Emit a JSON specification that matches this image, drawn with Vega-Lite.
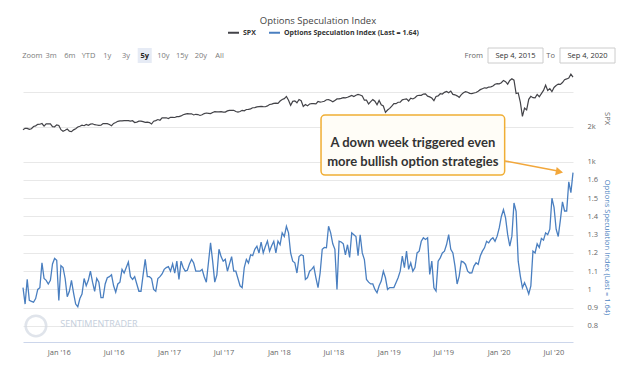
{
  "$schema": "https://vega.github.io/schema/vega-lite/v6.json",
  "background": "white",
  "padding": {"left": 20, "top": 15, "right": 5, "bottom": 5},
  "autosize": {"type": "pad"},
  "title": {"text": "Options Speculation Index", "fontSize": 9.5, "font": "Open Sans", "fontWeight": "normal", "color": "#444444", "anchor": "middle", "offset": 1},
  "config": {
    "font": "Open Sans",
    "view": {"stroke": null},
    "axis": {"labelFont": "Open Sans", "titleFont": "Open Sans", "labelFontSize": 7.5, "labelColor": "#666666", "titleFontWeight": "normal"}
  },
  "spacing": 3,
  "datasets": {
    "buttons": [{"label": "Zoom"}, {"label": "3m"}, {"label": "6m"}, {"label": "YTD"}, {"label": "1y"}, {"label": "3y"}, {"label": "5y"}, {"label": "10y"}, {"label": "15y"}, {"label": "20y"}, {"label": "All"}],
    "range": [{"label": "From", "date": "Sep 4, 2015"}, {"label": "To", "date": "Sep 4, 2020"}],
    "weekly": [
      {"date":"2015-09-04","SPX":1921,"OSI":1.01},{"date":"2015-09-11","SPX":1961,"OSI":0.92},{"date":"2015-09-18","SPX":1958,"OSI":1.055},{"date":"2015-09-25","SPX":1931,"OSI":0.94},
      {"date":"2015-10-02","SPX":1951,"OSI":0.935},{"date":"2015-10-09","SPX":2014,"OSI":0.93},{"date":"2015-10-16","SPX":2033,"OSI":0.95},{"date":"2015-10-23","SPX":2075,"OSI":1.0},{"date":"2015-10-30","SPX":2079,"OSI":1.01},
      {"date":"2015-11-06","SPX":2099,"OSI":1.146},{"date":"2015-11-13","SPX":2023,"OSI":1.06},{"date":"2015-11-20","SPX":2089,"OSI":1.05},{"date":"2015-11-27","SPX":2090,"OSI":1.03},
      {"date":"2015-12-04","SPX":2091,"OSI":1.05},{"date":"2015-12-11","SPX":2012,"OSI":1.14},{"date":"2015-12-18","SPX":2005,"OSI":1.17},{"date":"2015-12-25","SPX":2060,"OSI":1.16},
      {"date":"2016-01-01","SPX":2044,"OSI":0.94},{"date":"2016-01-08","SPX":1922,"OSI":1.13},{"date":"2016-01-15","SPX":1880,"OSI":1.12},{"date":"2016-01-22","SPX":1907,"OSI":1.06},{"date":"2016-01-29","SPX":1940,"OSI":0.96},
      {"date":"2016-02-05","SPX":1880,"OSI":0.99},{"date":"2016-02-12","SPX":1865,"OSI":1.05},{"date":"2016-02-19","SPX":1918,"OSI":0.98},{"date":"2016-02-26","SPX":1948,"OSI":0.92},
      {"date":"2016-03-04","SPX":2000,"OSI":0.905},{"date":"2016-03-11","SPX":2022,"OSI":0.95},{"date":"2016-03-18","SPX":2050,"OSI":0.975},{"date":"2016-03-25","SPX":2036,"OSI":1.06},
      {"date":"2016-04-01","SPX":2073,"OSI":1.02},{"date":"2016-04-08","SPX":2048,"OSI":1.05},{"date":"2016-04-15","SPX":2081,"OSI":1.1},{"date":"2016-04-22","SPX":2092,"OSI":1.04},{"date":"2016-04-29","SPX":2065,"OSI":0.99},
      {"date":"2016-05-06","SPX":2057,"OSI":1.06},{"date":"2016-05-13","SPX":2047,"OSI":1.04},{"date":"2016-05-20","SPX":2052,"OSI":0.955},{"date":"2016-05-27","SPX":2099,"OSI":0.955},
      {"date":"2016-06-03","SPX":2099,"OSI":1.03},{"date":"2016-06-10","SPX":2096,"OSI":1.064},{"date":"2016-06-17","SPX":2071,"OSI":1.07},{"date":"2016-06-24","SPX":2037,"OSI":1.08},
      {"date":"2016-07-01","SPX":2103,"OSI":1.02},{"date":"2016-07-08","SPX":2130,"OSI":0.985},{"date":"2016-07-15","SPX":2162,"OSI":1.03},{"date":"2016-07-22","SPX":2175,"OSI":1.04},{"date":"2016-07-29","SPX":2174,"OSI":1.11},
      {"date":"2016-08-05","SPX":2183,"OSI":1.09},{"date":"2016-08-12","SPX":2184,"OSI":1.12},{"date":"2016-08-19","SPX":2184,"OSI":1.15},{"date":"2016-08-26","SPX":2169,"OSI":1.07},
      {"date":"2016-09-02","SPX":2180,"OSI":1.055},{"date":"2016-09-09","SPX":2128,"OSI":1.07},{"date":"2016-09-16","SPX":2139,"OSI":1.03},{"date":"2016-09-23","SPX":2165,"OSI":0.99},{"date":"2016-09-30","SPX":2168,"OSI":0.99},
      {"date":"2016-10-07","SPX":2153,"OSI":1.08},{"date":"2016-10-14","SPX":2133,"OSI":1.165},{"date":"2016-10-21","SPX":2141,"OSI":1.07},{"date":"2016-10-28","SPX":2126,"OSI":1.07},
      {"date":"2016-11-04","SPX":2085,"OSI":1.06},{"date":"2016-11-11","SPX":2164,"OSI":1.0},{"date":"2016-11-18","SPX":2182,"OSI":0.99},{"date":"2016-11-25","SPX":2213,"OSI":1.06},
      {"date":"2016-12-02","SPX":2192,"OSI":1.07},{"date":"2016-12-09","SPX":2259,"OSI":1.085},{"date":"2016-12-16","SPX":2258,"OSI":1.11},{"date":"2016-12-23","SPX":2264,"OSI":1.12},{"date":"2016-12-30","SPX":2239,"OSI":1.125},
      {"date":"2017-01-06","SPX":2277,"OSI":1.1},{"date":"2017-01-13","SPX":2275,"OSI":1.14},{"date":"2017-01-20","SPX":2271,"OSI":1.09},{"date":"2017-01-27","SPX":2295,"OSI":1.155},
      {"date":"2017-02-03","SPX":2297,"OSI":1.055},{"date":"2017-02-10","SPX":2316,"OSI":1.155},{"date":"2017-02-17","SPX":2351,"OSI":1.12},{"date":"2017-02-24","SPX":2367,"OSI":1.1},
      {"date":"2017-03-03","SPX":2383,"OSI":1.105},{"date":"2017-03-10","SPX":2373,"OSI":1.14},{"date":"2017-03-17","SPX":2378,"OSI":1.165},{"date":"2017-03-24","SPX":2344,"OSI":1.145},{"date":"2017-03-31","SPX":2363,"OSI":1.1},
      {"date":"2017-04-07","SPX":2356,"OSI":1.1},{"date":"2017-04-14","SPX":2329,"OSI":1.1},{"date":"2017-04-21","SPX":2349,"OSI":1.11},{"date":"2017-04-28","SPX":2384,"OSI":1.07},
      {"date":"2017-05-05","SPX":2399,"OSI":1.04},{"date":"2017-05-12","SPX":2391,"OSI":1.146},{"date":"2017-05-19","SPX":2382,"OSI":1.255},{"date":"2017-05-26","SPX":2416,"OSI":1.155},
      {"date":"2017-06-02","SPX":2439,"OSI":1.04},{"date":"2017-06-09","SPX":2432,"OSI":1.08},{"date":"2017-06-16","SPX":2433,"OSI":1.22},{"date":"2017-06-23","SPX":2438,"OSI":1.18},{"date":"2017-06-30","SPX":2423,"OSI":1.155},
      {"date":"2017-07-07","SPX":2425,"OSI":1.165},{"date":"2017-07-14","SPX":2459,"OSI":1.1},{"date":"2017-07-21","SPX":2473,"OSI":1.14},{"date":"2017-07-28","SPX":2472,"OSI":1.18},
      {"date":"2017-08-04","SPX":2477,"OSI":1.1},{"date":"2017-08-11","SPX":2441,"OSI":1.1},{"date":"2017-08-18","SPX":2426,"OSI":1.06},{"date":"2017-08-25","SPX":2443,"OSI":1.02},
      {"date":"2017-09-01","SPX":2477,"OSI":1.01},{"date":"2017-09-08","SPX":2461,"OSI":1.12},{"date":"2017-09-15","SPX":2500,"OSI":1.165},{"date":"2017-09-22","SPX":2502,"OSI":1.145},{"date":"2017-09-29","SPX":2519,"OSI":1.19},
      {"date":"2017-10-06","SPX":2549,"OSI":1.185},{"date":"2017-10-13","SPX":2553,"OSI":1.22},{"date":"2017-10-20","SPX":2575,"OSI":1.237},{"date":"2017-10-27","SPX":2581,"OSI":1.2},
      {"date":"2017-11-03","SPX":2588,"OSI":1.26},{"date":"2017-11-10","SPX":2582,"OSI":1.2},{"date":"2017-11-17","SPX":2579,"OSI":1.235},{"date":"2017-11-24","SPX":2602,"OSI":1.265},
      {"date":"2017-12-01","SPX":2642,"OSI":1.21},{"date":"2017-12-08","SPX":2652,"OSI":1.24},{"date":"2017-12-15","SPX":2676,"OSI":1.264},{"date":"2017-12-22","SPX":2683,"OSI":1.2},{"date":"2017-12-29","SPX":2674,"OSI":1.265},
      {"date":"2018-01-05","SPX":2743,"OSI":1.245},{"date":"2018-01-12","SPX":2787,"OSI":1.31},{"date":"2018-01-19","SPX":2810,"OSI":1.29},{"date":"2018-01-26","SPX":2873,"OSI":1.346},
      {"date":"2018-02-02","SPX":2762,"OSI":1.31},{"date":"2018-02-09","SPX":2620,"OSI":1.2},{"date":"2018-02-16","SPX":2732,"OSI":1.155},{"date":"2018-02-23","SPX":2747,"OSI":1.146},
      {"date":"2018-03-02","SPX":2691,"OSI":1.09},{"date":"2018-03-09","SPX":2786,"OSI":1.18},{"date":"2018-03-16","SPX":2752,"OSI":1.19},{"date":"2018-03-23","SPX":2588,"OSI":1.185},{"date":"2018-03-30","SPX":2641,"OSI":1.055},
      {"date":"2018-04-06","SPX":2604,"OSI":1.065},{"date":"2018-04-13","SPX":2656,"OSI":1.1},{"date":"2018-04-20","SPX":2670,"OSI":1.11},{"date":"2018-04-27","SPX":2670,"OSI":1.125},
      {"date":"2018-05-04","SPX":2663,"OSI":1.064},{"date":"2018-05-11","SPX":2728,"OSI":1.01},{"date":"2018-05-18","SPX":2713,"OSI":1.09},{"date":"2018-05-25","SPX":2721,"OSI":1.22},
      {"date":"2018-06-01","SPX":2735,"OSI":1.23},{"date":"2018-06-08","SPX":2779,"OSI":1.228},{"date":"2018-06-15","SPX":2780,"OSI":1.346},{"date":"2018-06-22","SPX":2755,"OSI":1.31},{"date":"2018-06-29","SPX":2718,"OSI":1.25},
      {"date":"2018-07-06","SPX":2760,"OSI":1.22},{"date":"2018-07-13","SPX":2801,"OSI":1.0},{"date":"2018-07-20","SPX":2802,"OSI":1.264},{"date":"2018-07-27","SPX":2819,"OSI":1.26},
      {"date":"2018-08-03","SPX":2840,"OSI":1.25},{"date":"2018-08-10","SPX":2833,"OSI":1.19},{"date":"2018-08-17","SPX":2850,"OSI":1.245},{"date":"2018-08-24","SPX":2875,"OSI":1.175},{"date":"2018-08-31","SPX":2902,"OSI":1.31},
      {"date":"2018-09-07","SPX":2872,"OSI":1.3},{"date":"2018-09-14","SPX":2905,"OSI":1.29},{"date":"2018-09-21","SPX":2930,"OSI":1.185},{"date":"2018-09-28","SPX":2914,"OSI":1.3},
      {"date":"2018-10-05","SPX":2886,"OSI":1.2},{"date":"2018-10-12","SPX":2767,"OSI":1.164},{"date":"2018-10-19","SPX":2768,"OSI":1.055},{"date":"2018-10-26","SPX":2659,"OSI":1.04},
      {"date":"2018-11-02","SPX":2723,"OSI":1.03},{"date":"2018-11-09","SPX":2781,"OSI":1.03},{"date":"2018-11-16","SPX":2736,"OSI":1.0},{"date":"2018-11-23","SPX":2633,"OSI":0.982},{"date":"2018-11-30","SPX":2760,"OSI":1.02},
      {"date":"2018-12-07","SPX":2633,"OSI":1.046},{"date":"2018-12-14","SPX":2600,"OSI":1.1},{"date":"2018-12-21","SPX":2417,"OSI":1.064},{"date":"2018-12-28","SPX":2486,"OSI":1.0},
      {"date":"2019-01-04","SPX":2532,"OSI":1.01},{"date":"2019-01-11","SPX":2596,"OSI":1.01},{"date":"2019-01-18","SPX":2671,"OSI":1.01},{"date":"2019-01-25","SPX":2665,"OSI":1.037},
      {"date":"2019-02-01","SPX":2707,"OSI":1.064},{"date":"2019-02-08","SPX":2708,"OSI":1.1},{"date":"2019-02-15","SPX":2776,"OSI":1.183},{"date":"2019-02-22","SPX":2793,"OSI":1.12},
      {"date":"2019-03-01","SPX":2804,"OSI":1.21},{"date":"2019-03-08","SPX":2743,"OSI":1.11},{"date":"2019-03-15","SPX":2822,"OSI":1.146},{"date":"2019-03-22","SPX":2801,"OSI":1.1},{"date":"2019-03-29","SPX":2834,"OSI":1.12},
      {"date":"2019-04-05","SPX":2893,"OSI":1.2},{"date":"2019-04-12","SPX":2907,"OSI":1.21},{"date":"2019-04-19","SPX":2905,"OSI":1.264},{"date":"2019-04-26","SPX":2940,"OSI":1.283},
      {"date":"2019-05-03","SPX":2946,"OSI":1.274},{"date":"2019-05-10","SPX":2881,"OSI":1.283},{"date":"2019-05-17","SPX":2860,"OSI":1.082},{"date":"2019-05-24","SPX":2826,"OSI":1.155},{"date":"2019-05-31","SPX":2752,"OSI":1.009},
      {"date":"2019-06-07","SPX":2873,"OSI":0.991},{"date":"2019-06-14","SPX":2887,"OSI":1.155},{"date":"2019-06-21","SPX":2950,"OSI":1.173},{"date":"2019-06-28","SPX":2942,"OSI":1.2},
      {"date":"2019-07-05","SPX":2990,"OSI":1.21},{"date":"2019-07-12","SPX":3014,"OSI":1.246},{"date":"2019-07-19","SPX":2977,"OSI":1.3},{"date":"2019-07-26","SPX":3026,"OSI":1.22},
      {"date":"2019-08-02","SPX":2932,"OSI":1.2},{"date":"2019-08-09","SPX":2919,"OSI":1.128},{"date":"2019-08-16","SPX":2889,"OSI":1.03},{"date":"2019-08-23","SPX":2847,"OSI":1.073},{"date":"2019-08-30","SPX":2926,"OSI":1.155},
      {"date":"2019-09-06","SPX":2979,"OSI":1.15},{"date":"2019-09-13","SPX":3007,"OSI":1.137},{"date":"2019-09-20","SPX":2992,"OSI":1.1},{"date":"2019-09-27","SPX":2962,"OSI":1.09},
      {"date":"2019-10-04","SPX":2952,"OSI":1.091},{"date":"2019-10-11","SPX":2970,"OSI":1.128},{"date":"2019-10-18","SPX":2986,"OSI":1.146},{"date":"2019-10-25","SPX":3023,"OSI":1.137},
      {"date":"2019-11-01","SPX":3067,"OSI":1.183},{"date":"2019-11-08","SPX":3093,"OSI":1.21},{"date":"2019-11-15","SPX":3120,"OSI":1.228},{"date":"2019-11-22","SPX":3110,"OSI":1.264},{"date":"2019-11-29","SPX":3141,"OSI":1.255},
      {"date":"2019-12-06","SPX":3146,"OSI":1.274},{"date":"2019-12-13","SPX":3169,"OSI":1.283},{"date":"2019-12-20","SPX":3221,"OSI":1.264},{"date":"2019-12-27","SPX":3240,"OSI":1.292},
      {"date":"2020-01-03","SPX":3235,"OSI":1.337},{"date":"2020-01-10","SPX":3265,"OSI":1.4},{"date":"2020-01-17","SPX":3330,"OSI":1.437},{"date":"2020-01-24","SPX":3295,"OSI":1.392},{"date":"2020-01-31","SPX":3225,"OSI":1.3},
      {"date":"2020-02-07","SPX":3328,"OSI":1.237},{"date":"2020-02-14","SPX":3380,"OSI":1.292},{"date":"2020-02-21","SPX":3338,"OSI":1.474},{"date":"2020-02-28","SPX":2954,"OSI":1.428},
      {"date":"2020-03-06","SPX":2972,"OSI":1.155},{"date":"2020-03-13","SPX":2711,"OSI":1.073},{"date":"2020-03-20","SPX":2305,"OSI":1.009},{"date":"2020-03-27","SPX":2541,"OSI":1.037},
      {"date":"2020-04-03","SPX":2489,"OSI":1.009},{"date":"2020-04-10","SPX":2790,"OSI":0.975},{"date":"2020-04-17","SPX":2875,"OSI":1.02},{"date":"2020-04-24","SPX":2837,"OSI":1.21},
      {"date":"2020-05-01","SPX":2831,"OSI":1.2},{"date":"2020-05-08","SPX":2930,"OSI":1.25},{"date":"2020-05-15","SPX":2864,"OSI":1.23},{"date":"2020-05-22","SPX":2955,"OSI":1.28},{"date":"2020-05-29","SPX":3044,"OSI":1.27},
      {"date":"2020-06-05","SPX":3194,"OSI":1.31},{"date":"2020-06-12","SPX":3041,"OSI":1.3},{"date":"2020-06-19","SPX":3098,"OSI":1.33},{"date":"2020-06-26","SPX":3009,"OSI":1.5},
      {"date":"2020-07-03","SPX":3130,"OSI":1.45},{"date":"2020-07-10","SPX":3185,"OSI":1.33},{"date":"2020-07-17","SPX":3225,"OSI":1.29},{"date":"2020-07-24","SPX":3216,"OSI":1.38},{"date":"2020-07-31","SPX":3271,"OSI":1.48},
      {"date":"2020-08-07","SPX":3351,"OSI":1.43},{"date":"2020-08-14","SPX":3373,"OSI":1.43},{"date":"2020-08-21","SPX":3397,"OSI":1.59},{"date":"2020-08-28","SPX":3508,"OSI":1.53},
      {"date":"2020-09-04","SPX":3427,"OSI":1.64}
    ]
  },
  "vconcat": [
    {
      "spacing": 235,
      "hconcat": [
        {
          "width": 206,
          "height": 15,
          "data": {"name": "buttons"},
          "encoding": {"x": {"field": "label", "type": "nominal", "sort": null, "scale": {"domain": ["Zoom", "3m", "6m", "YTD", "1y", "3y", "5y", "10y", "15y", "20y", "All"], "paddingInner": 0, "paddingOuter": 0}, "axis": null}},
          "layer": [
            {"transform": [{"filter": "datum.label === '5y'"}], "mark": {"type": "bar", "color": "#e6ebf5", "width": {"band": 0.75}}},
            {"transform": [{"filter": "datum.label !== '5y'"}], "mark": {"type": "text", "fontSize": 7.5, "color": "#7a7a7a"}, "encoding": {"text": {"field": "label"}}},
            {"transform": [{"filter": "datum.label === '5y'"}], "mark": {"type": "text", "fontSize": 7.5, "color": "#222222", "fontWeight": "bold"}, "encoding": {"text": {"field": "label"}}}
          ]
        },
        {
          "width": 127,
          "height": 15,
          "data": {"name": "range"},
          "encoding": {"x": {"field": "date", "type": "nominal", "sort": null, "scale": {"paddingInner": 0.236, "paddingOuter": 0}, "axis": null}},
          "layer": [
            {"mark": {"type": "bar", "fill": "white", "stroke": "#cccccc", "strokeWidth": 1}},
            {"mark": {"type": "text", "fontSize": 7.5, "color": "#333333"}, "encoding": {"text": {"field": "date"}}},
            {"mark": {"type": "text", "fontSize": 7.5, "color": "#666666", "align": "right", "dx": -5}, "encoding": {"x": {"field": "date", "type": "nominal", "sort": null, "bandPosition": 0}, "text": {"field": "label"}}}
          ]
        }
      ]
    },
    {
      "width": 550,
      "height": 275,
      "layer": [
        {
          "data": {"name": "weekly"},
          "mark": {"type": "line", "strokeWidth": 1.2},
          "encoding": {
            "x": {
              "field": "date", "type": "temporal",
              "scale": {"domain": [{"year": 2015, "month": 9, "date": 4}, {"year": 2020, "month": 9, "date": 4}], "nice": false},
              "axis": {
                "title": null, "format": "%b '%y", "grid": false, "ticks": false, "domainColor": "#ccd6eb", "labelPadding": 6,
                "values": [{"year": 2016, "month": 1, "date": 1}, {"year": 2016, "month": 7, "date": 1}, {"year": 2017, "month": 1, "date": 1}, {"year": 2017, "month": 7, "date": 1}, {"year": 2018, "month": 1, "date": 1}, {"year": 2018, "month": 7, "date": 1}, {"year": 2019, "month": 1, "date": 1}, {"year": 2019, "month": 7, "date": 1}, {"year": 2020, "month": 1, "date": 1}, {"year": 2020, "month": 7, "date": 1}]
              }
            },
            "y": {
              "field": "SPX", "type": "quantitative",
              "scale": {"domain": [-4143, 3714], "nice": false, "zero": false},
              "axis": {"orient": "right", "values": [1000, 2000, 3000], "labelExpr": "datum.value == 3000 ? '' : (datum.value / 1000) + 'k'", "labelOverlap": false, "grid": true, "gridColor": "#e8e8e8", "ticks": false, "domain": false, "labelPadding": 14, "title": "SPX", "titleColor": "#666666", "titleFontSize": 7.5, "titleAngle": 90, "titleX": 33, "titleY": 51, "titleAlign": "center", "titleBaseline": "middle"}
            },
            "color": {
              "datum": "SPX", "type": "nominal",
              "scale": {"domain": ["SPX", "Options Speculation Index (Last = 1.64)"], "range": ["#434348", "#4a7fc0"]},
              "legend": {"orient": "none", "legendX": 204, "legendY": -22, "direction": "horizontal", "title": null, "symbolType": "stroke", "symbolStrokeWidth": 2, "symbolSize": 121, "labelFontSize": 7, "labelFontWeight": "bold", "labelColor": "#333333", "labelFont": "Open Sans", "columnPadding": 9, "labelOffset": 3}
            }
          }
        },
        {
          "data": {"name": "weekly"},
          "mark": {"type": "line", "strokeWidth": 1.3},
          "encoding": {
            "x": {"field": "date", "type": "temporal"},
            "y": {
              "field": "OSI", "type": "quantitative",
              "scale": {"domain": [0.712, 2.219], "nice": false, "zero": false},
              "axis": {"orient": "right", "values": [0.8, 0.9, 1, 1.1, 1.2, 1.3, 1.4, 1.5, 1.6], "format": ".1~f", "labelOverlap": false, "grid": true, "gridColor": "#e8e8e8", "ticks": false, "domain": false, "labelPadding": 14, "title": "Options Speculation Index (Last = 1.64)", "titleColor": "#4a7fc0", "titleFontSize": 7.5, "titleAngle": 90, "titleX": 33, "titleY": 180, "titleAlign": "center", "titleBaseline": "middle"}
            },
            "color": {"datum": "Options Speculation Index (Last = 1.64)", "type": "nominal"}
          }
        },
        {
          "data": {"values": [{}]},
          "mark": {"type": "point", "size": 420, "color": "#d3dae3", "strokeWidth": 2.5, "filled": false},
          "encoding": {
            "x": {"datum": {"year": 2015, "month": 10, "date": 17}, "type": "temporal"},
            "y": {"datum": 0.8, "type": "quantitative", "scale": {"domain": [0.712, 2.219], "nice": false, "zero": false}, "axis": null}
          }
        },
        {
          "data": {"values": [{}]},
          "mark": {"type": "text", "text": "SENTIMENTRADER", "fontSize": 9, "color": "#c4cedb", "align": "center", "baseline": "middle"},
          "encoding": {
            "x": {"datum": {"year": 2016, "month": 5, "date": 13}, "type": "temporal"},
            "y": {"datum": 0.811, "type": "quantitative", "scale": {"domain": [0.712, 2.219], "nice": false, "zero": false}, "axis": null}
          }
        },
        {
          "data": {"values": [{}]},
          "mark": {"type": "rect", "fill": "#fffdf7", "stroke": "#f0ae35", "strokeWidth": 1.5, "cornerRadius": 4},
          "encoding": {
            "x": {"datum": {"year": 2018, "month": 5, "date": 21}, "type": "temporal"},
            "x2": {"datum": {"year": 2020, "month": 1, "date": 21}},
            "y": {"datum": 1.956, "type": "quantitative", "scale": {"domain": [0.712, 2.219], "nice": false, "zero": false}, "axis": null},
            "y2": {"datum": 1.627}
          }
        },
        {
          "data": {"values": [{}]},
          "mark": {"type": "text", "text": ["A down week triggered even", "more bullish option strategies"], "lineHeight": 19, "font": "Lato", "fontWeight": "bold", "fontSize": 13, "color": "#333333", "align": "center", "baseline": "middle"},
          "encoding": {
            "x": {"datum": {"year": 2019, "month": 3, "date": 22}, "type": "temporal"},
            "y": {"datum": 1.8, "type": "quantitative", "scale": {"domain": [0.712, 2.219], "nice": false, "zero": false}, "axis": null}
          }
        },
        {
          "data": {"values": [{}]},
          "mark": {"type": "rule", "color": "#f2a73b", "strokeWidth": 1.6},
          "encoding": {
            "x": {"datum": {"year": 2020, "month": 1, "date": 22}, "type": "temporal"},
            "x2": {"datum": {"year": 2020, "month": 7, "date": 16}},
            "y": {"datum": 1.704, "type": "quantitative", "scale": {"domain": [0.712, 2.219], "nice": false, "zero": false}, "axis": null},
            "y2": {"datum": 1.649}
          }
        },
        {
          "data": {"values": [{}]},
          "mark": {"type": "point", "shape": "triangle-right", "filled": true, "angle": 11, "size": 70, "color": "#f2a73b", "opacity": 1},
          "encoding": {
            "x": {"datum": {"year": 2020, "month": 7, "date": 21}, "type": "temporal"},
            "y": {"datum": 1.645, "type": "quantitative", "scale": {"domain": [0.712, 2.219], "nice": false, "zero": false}, "axis": null}
          }
        }
      ],
      "resolve": {"scale": {"y": "independent"}}
    }
  ]
}
